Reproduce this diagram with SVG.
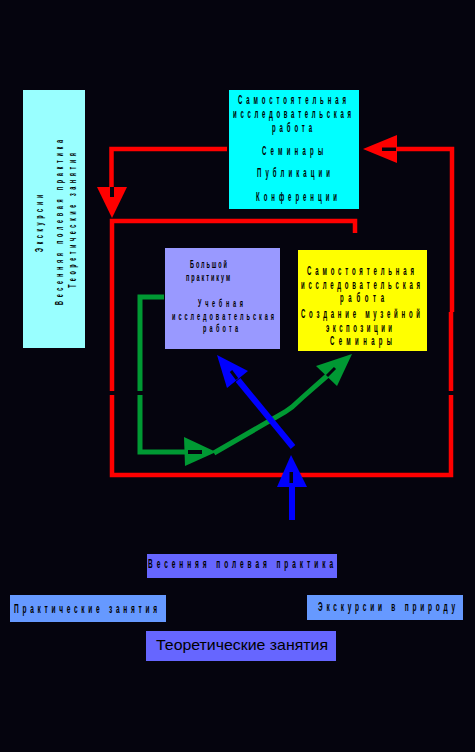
<svg xmlns="http://www.w3.org/2000/svg" width="475" height="752" viewBox="0 0 475 752">
<style>
.t{font-family:"Liberation Sans",Arial,sans-serif;fill:#000;text-anchor:middle;font-weight:bold}
.s{font-family:"Liberation Sans",Arial,sans-serif;fill:#000;text-anchor:start;font-weight:bold}
.n{font-family:"Liberation Sans",Arial,sans-serif;fill:#000;text-anchor:start}
.r{fill:none;stroke:#ff0000;stroke-width:4.5}
.g{fill:none;stroke:#009933;stroke-width:5}
.b{fill:none;stroke:#0000ff;stroke-width:6}
.hole{fill:none;stroke:#05040e;stroke-width:3}
</style>
<rect width="475" height="752" fill="#05040e"/>

<g id="left-box">
<rect x="23" y="90" width="62" height="258" fill="#99ffff"/>
<text class="t" font-size="10" transform="translate(43,223.5) rotate(-90) scale(0.55,1)" textLength="104" lengthAdjust="spacing">Экскурсии</text>
<text class="t" font-size="10" transform="translate(63,222.5) rotate(-90) scale(0.55,1)" textLength="300" lengthAdjust="spacing">Весенняя полевая практика</text>
<text class="t" font-size="10" transform="translate(75.5,220.5) rotate(-90) scale(0.55,1)" textLength="245" lengthAdjust="spacing">Теоретические занятия</text>
</g>

<g id="top-box">
<rect x="229" y="90" width="130" height="119" fill="#00ffff"/>
<g font-size="12">
<text class="t" transform="translate(292,104) scale(0.5,1)" textLength="216" lengthAdjust="spacing">Самостоятельная</text>
<text class="t" transform="translate(292,118) scale(0.5,1)" textLength="236" lengthAdjust="spacing">исследовательская</text>
<text class="t" transform="translate(292,132) scale(0.5,1)" textLength="80" lengthAdjust="spacing">работа</text>
<text class="t" transform="translate(292.5,155) scale(0.5,1)" textLength="122" lengthAdjust="spacing">Семинары</text>
<text class="t" transform="translate(293.5,177) scale(0.5,1)" textLength="146" lengthAdjust="spacing">Публикации</text>
<text class="t" transform="translate(296.5,201) scale(0.5,1)" textLength="162" lengthAdjust="spacing">Конференции</text>
</g>
</g>

<g id="practicum-box">
<rect x="165" y="248" width="115" height="101" fill="#9999ff"/>
<g font-size="11">
<text class="t" transform="translate(208.5,268) scale(0.5,1)" textLength="74" lengthAdjust="spacing">Большой</text>
<text class="t" transform="translate(208,281) scale(0.5,1)" textLength="88" lengthAdjust="spacing">практикум</text>
<text class="t" transform="translate(220.5,307) scale(0.5,1)" textLength="90" lengthAdjust="spacing">Учебная</text>
<text class="t" transform="translate(223,319.5) scale(0.5,1)" textLength="204" lengthAdjust="spacing">исследовательская</text>
<text class="t" transform="translate(220.5,332) scale(0.5,1)" textLength="70" lengthAdjust="spacing">работа</text>
</g>
</g>

<g id="museum-box">
<rect x="298" y="250" width="129" height="101" fill="#ffff00"/>
<g font-size="12">
<text class="t" transform="translate(360.5,275) scale(0.5,1)" textLength="214" lengthAdjust="spacing">Самостоятельная</text>
<text class="t" transform="translate(360.5,288.5) scale(0.5,1)" textLength="238" lengthAdjust="spacing">исследовательская</text>
<text class="t" transform="translate(362,302) scale(0.5,1)" textLength="88" lengthAdjust="spacing">работа</text>
<text class="t" transform="translate(360.5,318) scale(0.5,1)" textLength="238" lengthAdjust="spacing">Создание музейной</text>
<text class="t" transform="translate(359,331.5) scale(0.5,1)" textLength="132" lengthAdjust="spacing">экспозиции</text>
<text class="t" transform="translate(361,345) scale(0.5,1)" textLength="124" lengthAdjust="spacing">Семинары</text>
</g>
</g>

<g id="spring-practice">
<rect x="147" y="554" width="190" height="24" fill="#6666ff"/>
<text class="s" font-size="13" transform="translate(148,568) scale(0.5,1)" textLength="370" lengthAdjust="spacing">Весенняя полевая практика</text>
</g>

<g id="practical-classes">
<rect x="10" y="595" width="156" height="27" fill="#6699ff"/>
<text class="s" font-size="13" transform="translate(14,613) scale(0.5,1)" textLength="286" lengthAdjust="spacing">Практические занятия</text>
</g>

<g id="nature-excursions">
<rect x="307" y="595" width="156" height="25" fill="#6699ff"/>
<text class="s" font-size="13" transform="translate(318,611) scale(0.5,1)" textLength="274" lengthAdjust="spacing">Экскурсии в природу</text>
</g>

<g id="theory-classes">
<rect x="146" y="631" width="190" height="30" fill="#6666ff"/>
<text class="n" font-size="15" x="156" y="650" textLength="172" lengthAdjust="spacingAndGlyphs">Теоретические занятия</text>
</g>

<g id="connectors">
<path class="r" d="M227,149 H111.5 V187"/>
<polygon points="97,187 127,187 112,218" fill="#ff0000"/>
<rect x="110" y="187" width="4" height="10" fill="#05040e"/>
<path class="r" d="M355,233 V221 H112 V391 M112,395 V475 H451 V395 M451,391 V312 M452,312 V149 H397"/>
<polygon points="363,149 397,135 397,163" fill="#ff0000"/>
<rect x="382" y="147.5" width="14" height="3.5" fill="#05040e"/>

<path class="g" d="M164,297 H140 V391 M140,395 V452 H185"/>
<polygon points="184,437 216,452 185,466" fill="#009933"/>
<rect x="188" y="450" width="14" height="4" fill="#05040e"/>
<polyline class="g" points="214,453 285,412 292,407 303,397 328,375"/>
<polygon points="316,366 352,354 337,386" fill="#009933"/>
<line class="hole" x1="327" y1="376" x2="335" y2="368"/>

<line class="b" x1="293" y1="447" x2="238" y2="380"/>
<polygon points="217,355 248,371 227,388" fill="#0000ff"/>
<line class="hole" x1="237" y1="379" x2="231" y2="371"/>
<line class="b" x1="292" y1="486" x2="292" y2="520"/>
<polygon points="291,455 307,487 277,487" fill="#0000ff"/>
<rect x="289.5" y="472" width="3.5" height="11" fill="#05040e"/>
</g>
</svg>
